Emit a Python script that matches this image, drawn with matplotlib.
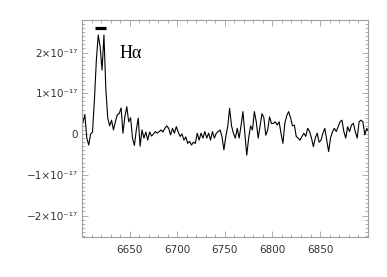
import numpy as np
import matplotlib
matplotlib.use('Agg')
import matplotlib.pyplot as plt
from matplotlib.ticker import MultipleLocator, FuncFormatter

# spectrum, flux in units of 1e-17, sampled every 2 A from 6599 A
WAVE_START = 6599
WAVE_STEP = 2
flux = [
    0.10, 0.30, 0.47, -0.10, -0.27, 0.00, 0.05, 0.84, 1.80, 2.43,
    2.15, 1.57, 2.43, 1.10, 0.39, 0.20, 0.34, 0.10, 0.30, 0.47,
    0.50, 0.64, 0.02, 0.43, 0.67, 0.30, 0.40, -0.10, -0.28, 0.10,
    0.39, -0.30, 0.10, -0.10, 0.05, -0.15, 0.05, -0.05, 0.00, 0.06,
    0.02, 0.06, 0.10, 0.05, 0.14, 0.20, 0.14, -0.02, 0.14, 0.02,
    0.18, 0.05, -0.06, 0.00, -0.15, -0.07, -0.23, -0.18, -0.27, -0.20,
    -0.23, 0.02, -0.15, 0.02, -0.10, 0.06, -0.10, 0.02, -0.15, 0.06,
    -0.10, 0.02, 0.06, 0.10, -0.06, -0.39, -0.06, 0.18, 0.63, 0.20,
    0.02, -0.10, 0.14, -0.10, 0.20, 0.55, 0.02, -0.52, -0.10, 0.20,
    0.10, 0.55, 0.30, -0.10, 0.20, 0.50, 0.40, -0.03, 0.10, 0.42,
    0.26, 0.26, 0.30, 0.22, 0.30, 0.02, -0.23, 0.26, 0.45, 0.55,
    0.40, 0.20, 0.22, -0.06, -0.10, -0.15, -0.06, 0.02, -0.06, 0.14,
    0.06, -0.10, -0.31, -0.10, 0.02, -0.20, -0.15, 0.02, 0.14, -0.15,
    -0.43, -0.10, 0.05, 0.14, 0.06, 0.18, 0.30, 0.34, 0.06, -0.10,
    0.18, 0.06, 0.22, 0.26, 0.06, -0.10, 0.30, 0.34, 0.30, -0.02,
    0.14, 0.06,
]
SCALE = 1e-17

# H-alpha marker bar and label
bar_x = [6613.7, 6625.2]
bar_y = 2.6
label_x, label_y = 6639, 1.97
label_text = 'Hα'

wave = WAVE_START + WAVE_STEP * np.arange(len(flux))
flux = np.array(flux) * SCALE

fig = plt.figure(figsize=(3.87, 2.77), dpi=100)
ax = fig.add_axes([0.212, 0.1455, 0.738, 0.784])

ax.plot(wave, flux, color='black', linewidth=0.8)
ax.plot(bar_x, [bar_y * SCALE] * 2, color='black', linewidth=2.3, solid_capstyle='butt')
ax.text(label_x, label_y * SCALE, label_text, fontsize=13,
        family=['Liberation Serif', 'DejaVu Serif'], va='center', ha='left')

ax.set_xlim(6600, 6900)
ax.set_ylim(-2.52 * SCALE, 2.81 * SCALE)

ax.xaxis.set_major_locator(MultipleLocator(50))
ax.xaxis.set_minor_locator(MultipleLocator(10))
ax.yaxis.set_major_locator(MultipleLocator(1 * SCALE))
ax.yaxis.set_minor_locator(MultipleLocator(0.1 * SCALE))

def yfmt(v, pos):
    n = int(round(v / SCALE))
    if n == 0:
        return '0'
    s = '\u2212' if n < 0 else ''
    return '%s%d\u00d710\u207b\u00b9\u2077' % (s, abs(n))

ax.yaxis.set_major_formatter(FuncFormatter(yfmt))
ax.xaxis.set_major_formatter(FuncFormatter(lambda v, p: '' if v in (6600, 6900) else '%d' % v))

for s in ax.spines.values():
    s.set_color('#a0a0a0')
    s.set_linewidth(0.8)
ax.tick_params(which='both', direction='in', top=True, right=True, color='#a0a0a0',
               labelsize=7.5, labelcolor='#333333', width=0.6)
ax.tick_params(axis='x', which='major', length=4.5, pad=6)
ax.tick_params(axis='y', which='major', length=4.5, pad=3)
ax.tick_params(which='minor', length=2.2)

fig.savefig('out.png', dpi=100)
